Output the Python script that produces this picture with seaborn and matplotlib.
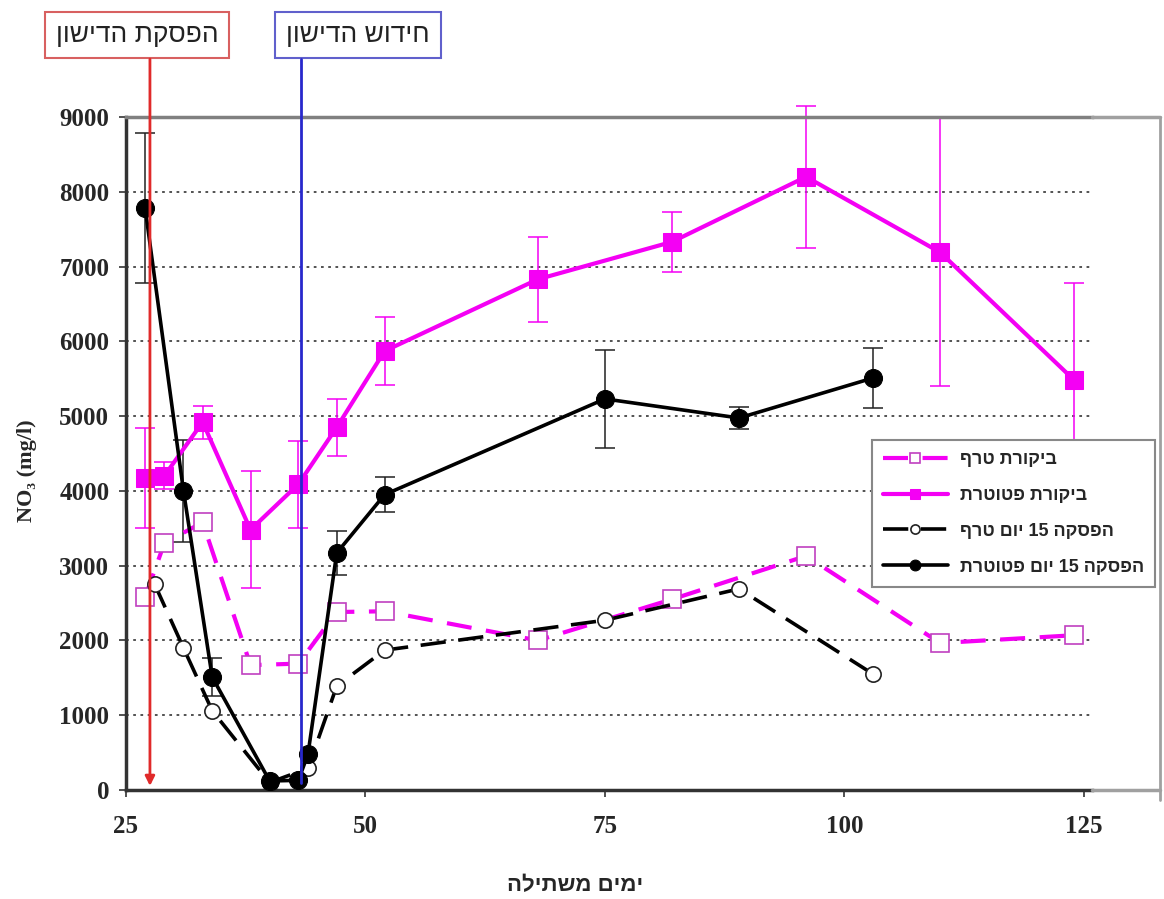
import numpy as np
import pandas as pd
import matplotlib
matplotlib.use("Agg")
import matplotlib.pyplot as plt
import matplotlib.transforms as mtransforms
from matplotlib.lines import Line2D
import seaborn as sns

# ---- data ----
ctrl_petiole_days = [27, 29, 33, 38, 43, 47, 52, 68, 82, 96, 110, 124]
ctrl_petiole_vals = [4170, 4200, 4920, 3480, 4090, 4850, 5870, 6830, 7330, 8200, 7190, 5480]
ctrl_petiole_err = [670, 180, 220, 780, 580, 380, 455, 570, 400, 950, 1790, 1300]

ctrl_leaf_days = [27, 29, 33, 38, 43, 47, 52, 68, 82, 96, 110, 124]
ctrl_leaf_vals = [2580, 3300, 3580, 1670, 1690, 2380, 2390, 2000, 2550, 3130, 1965, 2070]

stop_leaf_days = [28, 31, 34, 40, 44, 47, 52, 75, 89, 103]
stop_leaf_vals = [2750, 1900, 1060, 100, 290, 1390, 1870, 2270, 2690, 1550]

stop_petiole_days = [27, 31, 34, 40, 43, 44, 47, 52, 75, 89, 103]
stop_petiole_vals = [7780, 4000, 1510, 120, 130, 480, 3170, 3950, 5230, 4975, 5510]
stop_petiole_err = [1000, 680, 250, 0, 0, 0, 290, 235, 650, 150, 400]

stop_day = 27.5     # fertilisation stopped
renew_day = 43.3    # fertilisation renewed

series_names = ["ביקורת טרף", "ביקורת פטוטרת", "הפסקה 15 יום טרף", "הפסקה 15 יום פטוטרת"]
stop_label = "הפסקת הדישון"
renew_label = "חידוש הדישון"
x_title = "ימים משתילה"
y_title = "NO₃ (mg/l)"


def rtl(s):
    # matplotlib has no bidi support: lay the Hebrew out right-to-left by hand
    words = s.split(" ")[::-1]
    return " ".join(w if w.isdigit() else w[::-1] for w in words)


sns.set_theme(style="white")
plt.rcParams["font.family"] = ["Liberation Sans", "DejaVu Sans"]

PINK = "#f400f4"

fig = plt.figure(figsize=(11.64, 8.99), dpi=100)
ax = fig.add_axes([126 / 1164, 1 - 790 / 899, 966 / 1164, 673 / 899])

df_cl = pd.DataFrame({"day": ctrl_leaf_days, "val": ctrl_leaf_vals})
df_cp = pd.DataFrame({"day": ctrl_petiole_days, "val": ctrl_petiole_vals, "err": ctrl_petiole_err})
df_sl = pd.DataFrame({"day": stop_leaf_days, "val": stop_leaf_vals})
df_sp = pd.DataFrame({"day": stop_petiole_days, "val": stop_petiole_vals, "err": stop_petiole_err})

# error bars
for d, c in [(df_cp, PINK), (df_sp, "#222222")]:
    e = d[d["err"] > 0]
    eb = ax.errorbar(e["day"], e["val"], yerr=e["err"], fmt="none", ecolor=c,
                     elinewidth=1.1, capsize=7, capthick=1.1, zorder=2)
    for art in eb.lines[1] + eb.lines[2]:
        art.set_clip_on(False)

sns.lineplot(data=df_cl, x="day", y="val", ax=ax, color=PINK, lw=3,
             linestyle=(0, (6, 3.5)), marker="s", markersize=13, markerfacecolor="white",
             markeredgecolor="#c040c0", markeredgewidth=1.2, label=rtl(series_names[0]), zorder=3)
sns.lineplot(data=df_cp, x="day", y="val", ax=ax, color=PINK, lw=3,
             marker="s", markersize=13, markerfacecolor=PINK, markeredgecolor=PINK,
             label=rtl(series_names[1]), zorder=4)
sns.lineplot(data=df_sl, x="day", y="val", ax=ax, color="black", lw=2.6,
             linestyle=(0, (7, 3.5)), marker="o", markersize=11, markerfacecolor="white",
             markeredgecolor="#222222", markeredgewidth=1.2, label=rtl(series_names[2]), zorder=3)
sns.lineplot(data=df_sp, x="day", y="val", ax=ax, color="black", lw=2.6,
             marker="o", markersize=13, markerfacecolor="black", markeredgecolor="black",
             label=rtl(series_names[3]), zorder=4)

# axes styling
ax.set_xlim(25, 125.85)
ax.set_ylim(0, 9000)
ax.set_xticks([25, 50, 75, 100, 125])
ax.set_yticks(np.arange(0, 9001, 1000))
ax.yaxis.grid(True, linestyle=(0, (1.5, 2.5)), color="#444444", lw=1.3)
ax.xaxis.grid(False)
for side in ["left", "bottom"]:
    ax.spines[side].set_color("#333333")
    ax.spines[side].set_linewidth(2.5)
ax.spines["top"].set_color("#808080")
ax.spines["top"].set_linewidth(2.5)
ax.spines["right"].set_visible(False)
ax.tick_params(axis="y", direction="out", length=5, width=1.2, color="#333333", pad=7, left=True)
ax.tick_params(axis="x", direction="out", length=5, width=1.2, color="#333333", pad=13, bottom=True)
for lab in ax.get_yticklabels():
    lab.set_fontfamily("Liberation Serif")
    lab.set_fontweight("bold")
    lab.set_fontsize(18)
for lab in ax.get_xticklabels():
    lab.set_fontfamily("Liberation Serif")
    lab.set_fontweight("bold")
    lab.set_fontsize(18)

ax.set_ylabel(y_title, family=["Liberation Serif", "DejaVu Serif"], fontweight="bold", fontsize=16)
ax.yaxis.set_label_coords(-0.092, 0.475)
ax.set_xlabel(rtl(x_title), fontweight="bold", fontsize=16)
ax.xaxis.set_label_coords(0.465, -0.127)

# fertilisation events
blend = mtransforms.blended_transform_factory(ax.transData, ax.transAxes)
ax.annotate("", xy=(stop_day, 0.006), xycoords=blend, xytext=(stop_day, 1.086), textcoords=blend,
            arrowprops=dict(arrowstyle="-|>", color="#e02a2a", lw=2, mutation_scale=14,
                            shrinkA=0, shrinkB=0), annotation_clip=False, zorder=6)
ax.axvline(renew_day, ymin=0.01, ymax=1.086, color="#2828cc", lw=2, clip_on=False, zorder=6)
ax.text(stop_day - 1.35, 1.122, rtl(stop_label), transform=blend, ha="center", va="center",
        fontsize=19, color="#222222",
        bbox=dict(boxstyle="square,pad=0.42", fc="white", ec="#d86060", lw=1.5))
ax.text(renew_day + 5.9, 1.122, rtl(renew_label), transform=blend, ha="center", va="center",
        fontsize=19, color="#222222",
        bbox=dict(boxstyle="square,pad=0.42", fc="white", ec="#6060cc", lw=1.5))

# legend
leg = ax.legend(loc="upper left", bbox_to_anchor=(0.772, 0.52), borderaxespad=0, frameon=True,
                fancybox=False, framealpha=1, edgecolor="#888888", handlelength=3.6,
                handletextpad=0.7, labelspacing=1.05, borderpad=0.6, markerscale=0.6,
                prop={"weight": "bold", "size": 13})
leg.get_frame().set_linewidth(1.5)
leg.set_zorder(10)

# outer plot-area frame that runs past the axis
frame_c = "#a0a0a0"
x_ax_r = (126 + 966) / 1164
y_top = 1 - 117 / 899
fig.add_artist(Line2D([x_ax_r, 1160 / 1164], [y_top, y_top], transform=fig.transFigure, color=frame_c, lw=2.5))
fig.add_artist(Line2D([1160 / 1164, 1160 / 1164], [y_top, 1 - 800 / 899], transform=fig.transFigure, color=frame_c, lw=2))
fig.add_artist(Line2D([x_ax_r, 1160 / 1164], [1 - 790 / 899, 1 - 790 / 899], transform=fig.transFigure, color=frame_c, lw=2.5))

fig.savefig("out.png", dpi=100)
